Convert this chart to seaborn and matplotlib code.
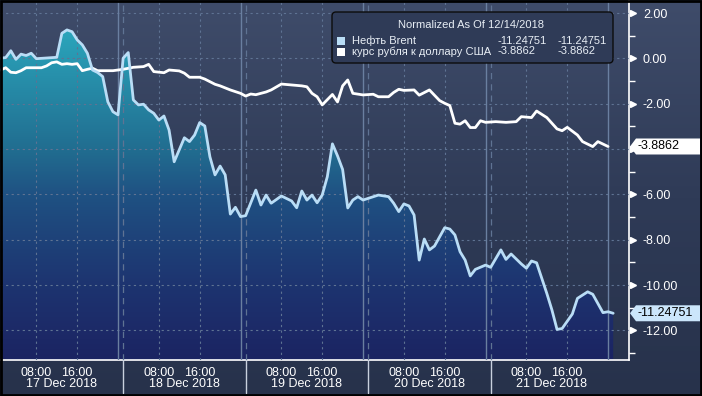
import numpy as np
import pandas as pd
import matplotlib
matplotlib.use("Agg")
import matplotlib.pyplot as plt
import matplotlib.transforms as mtransforms
from matplotlib.colors import LinearSegmentedColormap
from matplotlib.patches import Polygon, FancyBboxPatch, Rectangle
import seaborn as sns

# hours since 17 Dec 2018 00:00, values normalized as of 12/14/2018
brent_hours = [1, 2, 3, 4, 5, 6, 7, 8, 12, 13, 14, 15, 16, 17, 18, 19, 20, 21, 22, 23, 24,
               25, 26, 27, 28, 29, 30, 31, 32, 33, 34, 35, 37, 38, 39, 40, 41, 42, 43, 44, 45,
               46, 47, 48, 49, 51, 52, 53, 54, 56, 58, 59, 60, 61, 62, 63, 64, 65, 66, 67, 68,
               69, 70, 71, 72, 75, 77, 78, 79, 80, 81, 82, 83, 84, 85, 86, 88, 89, 90, 91, 92,
               93, 94, 96, 97, 99, 100, 101, 103, 104, 105, 106, 108, 109, 110, 111, 113, 114,
               116, 117, 119, 120, 121]
brent_values = [0.01, 0.04, 0.34, -0.04, 0.19, 0.13, 0.23, -0.01, 0.05, 1.11, 1.26, 1.18,
                0.82, 0.60, 0.23, -0.51, -0.62, -0.80, -1.91, -2.35, -2.49, 0.01, 0.26, -1.83,
                -2.05, -2.02, -2.27, -2.42, -2.72, -2.54, -3.16, -4.56, -3.50, -3.67, -3.38,
                -2.83, -2.98, -4.34, -5.14, -4.75, -5.14, -6.87, -6.57, -6.98, -6.94, -5.81,
                -6.47, -6.03, -6.39, -6.07, -6.29, -6.59, -5.85, -6.25, -6.03, -6.37, -6.03,
                -5.22, -3.77, -4.30, -4.90, -6.60, -6.25, -6.10, -6.25, -6.03, -6.10, -6.39,
                -6.76, -6.42, -6.51, -6.91, -8.90, -7.97, -8.45, -8.28, -7.47, -7.53, -7.79,
                -8.53, -8.90, -9.60, -9.31, -9.12, -9.22, -8.45, -8.87, -8.63, -9.07, -9.26,
                -8.94, -9.02, -10.37, -11.10, -11.96, -11.92, -11.28, -10.59, -10.30, -10.41,
                -11.22, -11.18, -11.24751]

rub_hours = [1, 2, 3, 4, 5, 6, 9, 10, 11, 12, 13, 14, 15, 16, 17, 18, 19, 20, 23, 25, 27,
             29, 30, 31, 33, 34, 36, 37, 38, 40, 41, 43, 44, 46, 48, 49, 50, 51, 53, 54, 56,
             58, 60, 61, 62, 63, 64, 66, 67, 68, 69, 70, 72, 74, 75, 77, 78, 79, 80, 82, 83,
             85, 87, 88, 89, 90, 91, 92, 93, 94, 95, 96, 98, 100, 102, 103, 105, 106, 108,
             110, 111, 112, 114, 115, 117, 118, 120]
rub_values = [-0.51, -0.41, -0.61, -0.63, -0.54, -0.41, -0.41, -0.33, -0.19, -0.15, -0.26,
              -0.23, -0.26, -0.23, -0.54, -0.48, -0.43, -0.54, -0.54, -0.48, -0.39, -0.36,
              -0.26, -0.58, -0.63, -0.51, -0.55, -0.65, -0.83, -0.83, -0.91, -1.14, -1.21,
              -1.39, -1.54, -1.66, -1.57, -1.60, -1.48, -1.39, -1.13, -1.17, -1.21, -1.25,
              -1.54, -1.69, -2.05, -1.59, -1.92, -1.21, -0.95, -1.54, -1.61, -1.58, -1.69,
              -1.69, -1.50, -1.36, -1.41, -1.39, -1.62, -1.39, -1.86, -1.98, -2.08, -2.86,
              -2.90, -2.75, -3.05, -3.05, -2.75, -2.82, -2.79, -2.82, -2.79, -2.57, -2.61,
              -2.32, -2.61, -3.11, -3.19, -3.04, -3.38, -3.67, -3.89, -3.67, -3.8862]

day_labels = ["17 Dec 2018", "18 Dec 2018", "19 Dec 2018", "20 Dec 2018", "21 Dec 2018"]
hour_labels = ["08:00", "16:00"]
y_ticks = [2, 0, -2, -4, -6, -8, -10, -12]
legend_title = "Normalized As Of 12/14/2018"
series_names = ["Нефть Brent", "курс рубля к доллару США"]
last_labels = ["-11.24751", "-3.8862"]

BRENT_COLOR = "#b9ddf6"
RUB_COLOR = "#ffffff"
GRID_COLOR = "#5f7393"

sns.set_theme(style="dark")
plt.rcParams["font.family"] = ["Liberation Sans", "DejaVu Sans"]
plt.rcParams["axes.unicode_minus"] = False

W, H = 702, 396
fig = plt.figure(figsize=(W / 100, H / 100), dpi=100)

# full-figure background gradient
bg = fig.add_axes([0, 0, 1, 1], zorder=0)
bg_cmap = LinearSegmentedColormap.from_list("bg", ["#27324b", "#2f3b57", "#3f4c6a"])
bg.imshow(np.linspace(1, 0, 256).reshape(-1, 1), cmap=bg_cmap, aspect="auto",
          extent=[0, 1, 0, 1])
bg.axis("off")

ax = fig.add_axes([0, 36 / H, 629 / W, 360 / H], zorder=1)
ax.patch.set_alpha(0)

xlo, xhi = 0.88, 124.1
ylo, yhi = -13.31, 2.58

# gradient fill under Brent
poly = ax.fill_between(brent_hours, brent_values, ylo, color="none", lw=0)
fill_cmap = LinearSegmentedColormap.from_list(
    "fill", [(0, "#1b2462"), (0.06, "#1c2866"), (0.225, "#1d3470"), (0.36, "#1e4279"),
             (0.5, "#1f5283"), (0.63, "#216d90"), (1, "#2ba7bd")])
grad = ax.imshow(np.linspace(1, 0, 256).reshape(-1, 1), cmap=fill_cmap, aspect="auto",
                 extent=[xlo, xhi, ylo, 1.4], zorder=2)
grad.set_clip_path(poly.get_paths()[0], transform=ax.transData)

# grid
for v in y_ticks:
    ax.axhline(v, color=GRID_COLOR, lw=0.8, ls=(0, (2, 3)), zorder=3)
for d in range(5):
    base = 24 * d
    ax.axvline(base + 1, color=GRID_COLOR, lw=0.9, ls=(0, (5, 4)), zorder=3)
    ax.axvline(base + 8, color=GRID_COLOR, lw=0.8, ls=(0, (2, 3)), zorder=3)
    ax.axvline(base + 16, color=GRID_COLOR, lw=0.8, ls=(0, (2, 3)), zorder=3)
    ax.axvline(base + 24, color="#6a7fa0", lw=1.0, zorder=3)

brent_df = pd.DataFrame({"hour": brent_hours, "value": brent_values})
rub_df = pd.DataFrame({"hour": rub_hours, "value": rub_values})
sns.lineplot(data=rub_df, x="hour", y="value", ax=ax, color=RUB_COLOR, lw=2, zorder=5)
sns.lineplot(data=brent_df, x="hour", y="value", ax=ax, color=BRENT_COLOR, lw=2, zorder=6)

ax.set_xlim(xlo, xhi)
ax.set_ylim(ylo, yhi)
ax.set_xlabel("")
ax.set_ylabel("")
ax.grid(False)

for side in ["top", "left"]:
    ax.spines[side].set_visible(False)
for side in ["right", "bottom"]:
    ax.spines[side].set_visible(True)
    ax.spines[side].set_color("white")
    ax.spines[side].set_linewidth(1.2)

# y axis on the right; the -4.00 label sits under the ruble value tag
ax.yaxis.tick_right()
ax.set_yticks(y_ticks)
ax.set_yticklabels(["" if v == -4 else f"{v:.2f}" for v in y_ticks])
ax.set_yticks([v + 1 for v in y_ticks[1:]] + [-13], minor=True)
ax.tick_params(axis="y", which="major", length=0, pad=10, labelsize=9, labelcolor="white")
ax.tick_params(axis="y", which="minor", length=4, width=1, color="white", direction="out")
ytrans = mtransforms.blended_transform_factory(ax.transAxes, ax.transData)
ax.plot([1.007] * len(y_ticks), y_ticks, ">", color="white", ms=4.5, transform=ytrans,
        clip_on=False, zorder=7)

# x axis: labels at 08:00 / 16:00, small ticks every 4 hours
xticks = [24 * d + h for d in range(5) for h in (8, 16)]
ax.set_xticks(xticks)
ax.set_xticklabels(hour_labels * 5)
ax.set_xticks([t for t in range(4, 124, 4) if t % 8 != 0], minor=True)
ax.tick_params(axis="x", which="both", length=3, width=1, color="white", direction="out",
               pad=2, labelsize=9, labelcolor="white")
xtrans = mtransforms.blended_transform_factory(ax.transData, ax.transAxes)
for d, lab in enumerate(day_labels):
    ax.text(24 * d + 13, -24 / 360, lab, transform=xtrans, ha="center", va="center",
            color="white", fontsize=9)
for d in range(1, 5):
    ax.plot([24 * d + 1] * 2, [0, -33 / 360], color="#c9d1de", lw=1, transform=xtrans,
            clip_on=False, zorder=7)

# overlay in pixel coordinates for legend box and value tags
ov = fig.add_axes([0, 0, 1, 1], zorder=10)
ov.set_xlim(0, W)
ov.set_ylim(H, 0)
ov.axis("off")

ov.add_patch(FancyBboxPatch((332, 12), 281, 51, boxstyle="round,pad=0,rounding_size=4",
                            fc="#2f3b57", ec="#0c0c0c", lw=1))
ov.text(471, 25.5, legend_title, ha="center", va="center", color="#e8eef5", fontsize=8)
swatches = [BRENT_COLOR, RUB_COLOR]
for i, (name, lab, col) in enumerate(zip(series_names, last_labels, swatches)):
    yc = 40.5 + 11 * i
    ov.add_patch(Rectangle((337, yc - 4), 8, 8, fc=col, ec="none"))
    ov.text(352, yc, name, ha="left", va="center", color="#e8eef5", fontsize=8)
    ov.text(498, yc, lab, ha="left", va="center", color="#e8eef5", fontsize=8)
    ov.text(557, yc, lab, ha="left", va="center", color="#e8eef5", fontsize=8)

# value tags on the right axis
fig.canvas.draw()
tag_specs = [(brent_values[-1], last_labels[0], "#cbe6fb"), (rub_values[-1], last_labels[1], "white")]
for val, lab, col in tag_specs:
    yp = H - ax.transData.transform((xlo, val))[1]
    ov.add_patch(Polygon([(630, yp), (636, yp - 8), (700, yp - 8), (700, yp + 8), (636, yp + 8)],
                         closed=True, fc=col, ec="none"))
    ov.text(637, yp, lab, ha="left", va="center", color="black", fontsize=9)

# thin black frame around the image
ov.add_patch(Rectangle((0.5, 0.5), W - 1.5, H - 2, fill=False, ec="black", lw=2))

fig.savefig("out.png", dpi=100)
